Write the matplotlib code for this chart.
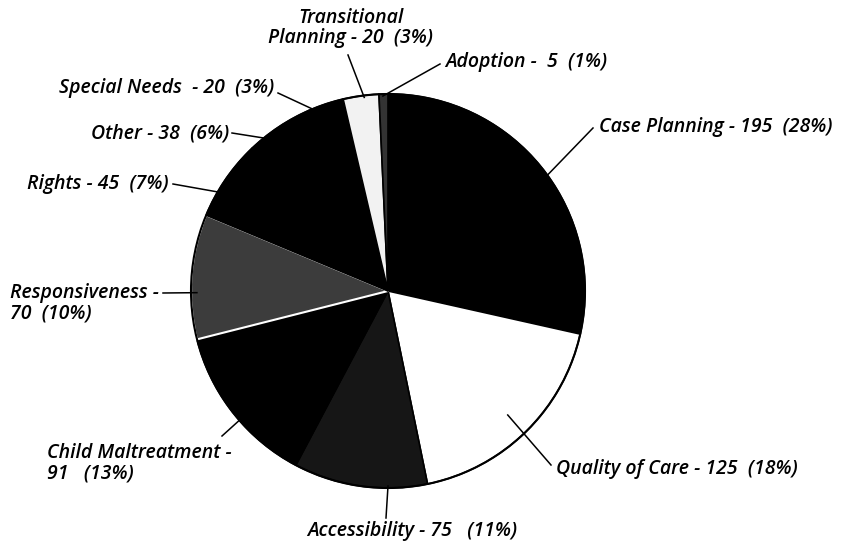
import matplotlib
matplotlib.use("Agg")
import matplotlib.pyplot as plt
import numpy as np

# ---- data ----
categories = ["Case Planning", "Quality of Care", "Accessibility", "Child Maltreatment",
              "Responsiveness", "Rights", "Other", "Special Needs",
              "Transitional Planning", "Adoption"]
values = [195, 125, 75, 91, 70, 45, 38, 20, 20, 5]
percents = [28, 18, 11, 13, 10, 7, 6, 3, 3, 1]
label_texts = [
    "Case Planning - 195  (28%)",
    "Quality of Care - 125  (18%)",
    "Accessibility - 75   (11%)",
    "Child Maltreatment -\n91   (13%)",
    "Responsiveness -\n70  (10%)",
    "Rights - 45  (7%)",
    "Other - 38  (6%)",
    "Special Needs  - 20  (3%)",
    "Transitional\nPlanning - 20  (3%)",
    "Adoption -  5  (1%)",
]

# ---- styles / layout ----
W, H = 845, 546
colors = ["#000000", "#ffffff", "#161616", "#000000", "#3c3c3c",
          "#000000", "#000000", "#000000", "#f2f2f2", "#333333"]
# text anchor positions in image pixels (x, y from top), alignment
text_pos = [(599, 127, "left"), (556, 469, "left"), (307, 531, "left"),
            (47, 463, "left"), (10, 303, "left"), (169, 184, "right"),
            (229, 133, "right"), (274, 88, "right"), (351, 28, "center"),
            (445, 62, "left")]
# leader-line end of text side (image px)
line_txt = [(593, 128), (551, 465), (386, 518), (222, 436), (163, 293),
            (173, 184), (232, 133), (278, 93), (348, 55), (440, 64)]
# anchor on pie: (angle deg, radius fraction)
anchors = [(36, 1.0), (-46, 0.875), (-90, 0.99), (221, 0.98), (180.5, 0.97),
           (149.6, 0.99), (128, 0.98), (112, 0.99), (97, 0.99), (91.5, 0.99)]

cx, cy, R = 388, H - 291, 197

plt.rcParams['font.family'] = ['Open Sans', 'DejaVu Sans']
fig = plt.figure(figsize=(W / 100, H / 100), dpi=100)
ax = fig.add_axes([0, 0, 1, 1])

wedges, _ = ax.pie(values, colors=colors, startangle=90, counterclock=False,
                   center=(cx, cy), radius=R,
                   wedgeprops=dict(edgecolor="black", linewidth=1.2))
wedges[4].set_edgecolor("white")
wedges[4].set_linewidth(1.5)
circ = plt.Circle((cx, cy), R, fill=False, edgecolor="black", linewidth=1.5, zorder=5)
ax.add_patch(circ)

for txt, (tx, ty, ha), (lx, ly), (ang, rf) in zip(label_texts, text_pos, line_txt, anchors):
    a = np.deg2rad(ang)
    px, py = cx + rf * R * np.cos(a), cy + rf * R * np.sin(a)
    ax.plot([px, lx], [py, H - ly], color="black", linewidth=1.1, zorder=6)
    ax.text(tx, H - ty, txt, ha=ha, va="center", fontsize=14, fontstyle="italic",
            fontweight="semibold", multialignment="left" if ha != "center" else "center",
            linespacing=1.05)

ax.set_xlim(0, W)
ax.set_ylim(0, H)
ax.set_aspect("equal")
ax.set_axis_off()
fig.savefig("out.png", dpi=100, facecolor="white")
